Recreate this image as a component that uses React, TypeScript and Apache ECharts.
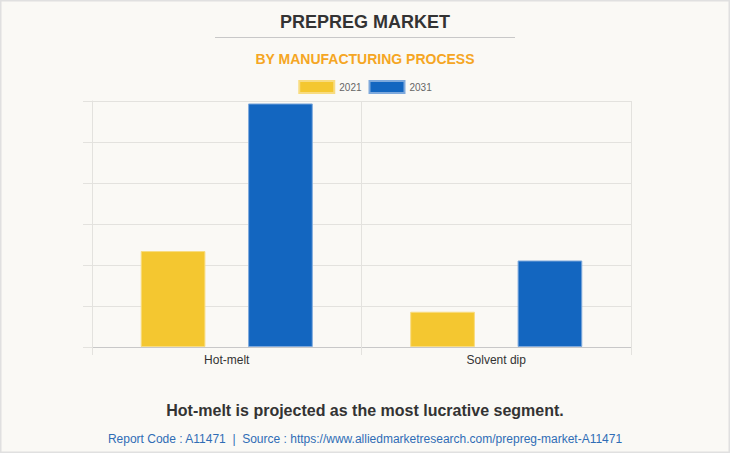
import React, { useEffect, useRef } from "react";
import * as echarts from "echarts";

const categories = ["Hot-melt", "Solvent dip"];
const seriesNames = ["2021", "2031"];
const values2021 = [2.34, 0.86];
const values2031 = [5.94, 2.11];
const yMax = 6;

export default function App() {
  const ref = useRef<HTMLDivElement>(null);
  useEffect(() => {
    document.body.style.margin = "0";
    const chart = echarts.init(ref.current!, null, { renderer: "svg" });
    const gridColor = "#e3e2de";
    chart.setOption({
      animation: false,
      backgroundColor: "#faf9f5",
      title: [
        {
          text: "PREPREG MARKET",
          left: "center",
          top: 8,
          textStyle: { fontFamily: "Arial, Liberation Sans", fontWeight: "bold", fontSize: 18, color: "#333333" },
        },
        {
          text: "BY MANUFACTURING PROCESS",
          left: "center",
          top: 47,
          textStyle: { fontFamily: "Arial, Liberation Sans", fontWeight: "bold", fontSize: 14, color: "#f5a623" },
        },
        {
          text: "Hot-melt is projected as the most lucrative segment.",
          left: "center",
          top: 397,
          textStyle: { fontFamily: "Arial, Liberation Sans", fontWeight: "bold", fontSize: 16, color: "#333333" },
        },
        {
          text: "Report Code : A11471  |  Source : https://www.alliedmarketresearch.com/prepreg-market-A11471",
          left: "center",
          top: 428,
          textStyle: { fontFamily: "Arial, Liberation Sans", fontWeight: "normal", fontSize: 12, color: "#2f6db5" },
        },
      ],
      graphic: [
        {
          type: "line",
          shape: { x1: 215, y1: 37.5, x2: 515, y2: 37.5 },
          style: { stroke: "#c8c8c8", lineWidth: 1 },
        },
        {
          type: "rect",
          shape: { x: 0.5, y: 0.5, width: 729, height: 452 },
          style: { fill: "none", stroke: "#e0e0e0", lineWidth: 2 },
        },
      ],
      legend: {
        top: 75,
        left: "center",
        itemWidth: 35,
        itemHeight: 12,
        itemGap: 7,
        icon: "rect",
        textStyle: { fontFamily: "Arial, Liberation Sans", fontSize: 10, color: "#666666" },
        data: seriesNames,
      },
      grid: { left: 92, right: 99, top: 101, bottom: 106, containLabel: false },
      xAxis: {
        type: "category",
        data: categories,
        axisLine: { show: true, lineStyle: { color: "#c8c8c8" } },
        axisTick: { show: true, length: 8, lineStyle: { color: gridColor } },
        splitLine: { show: true, lineStyle: { color: gridColor } },
        axisLabel: { fontFamily: "Arial, Liberation Sans", fontSize: 12, color: "#333333", margin: 7 },
      },
      yAxis: {
        type: "value",
        min: 0,
        max: yMax,
        interval: 1,
        axisLabel: { show: false },
        axisLine: { show: true, lineStyle: { color: gridColor } },
        axisTick: { show: true, length: 9, lineStyle: { color: gridColor } },
        splitLine: { show: true, lineStyle: { color: gridColor } },
      },
      series: [
        {
          name: seriesNames[0],
          type: "bar",
          data: values2021,
          barWidth: "24%",
          barGap: "66%",
          itemStyle: { color: "#f4c730", borderColor: "#f8dc80", borderWidth: 1 },
        },
        {
          name: seriesNames[1],
          type: "bar",
          data: values2031,
          barWidth: "24%",
          barGap: "66%",
          itemStyle: { color: "#1366c0", borderColor: "#7ea9dc", borderWidth: 1 },
        },
      ],
    });
    return () => chart.dispose();
  }, []);
  return <div ref={ref} style={{ width: 730, height: 453 }} />;
}
